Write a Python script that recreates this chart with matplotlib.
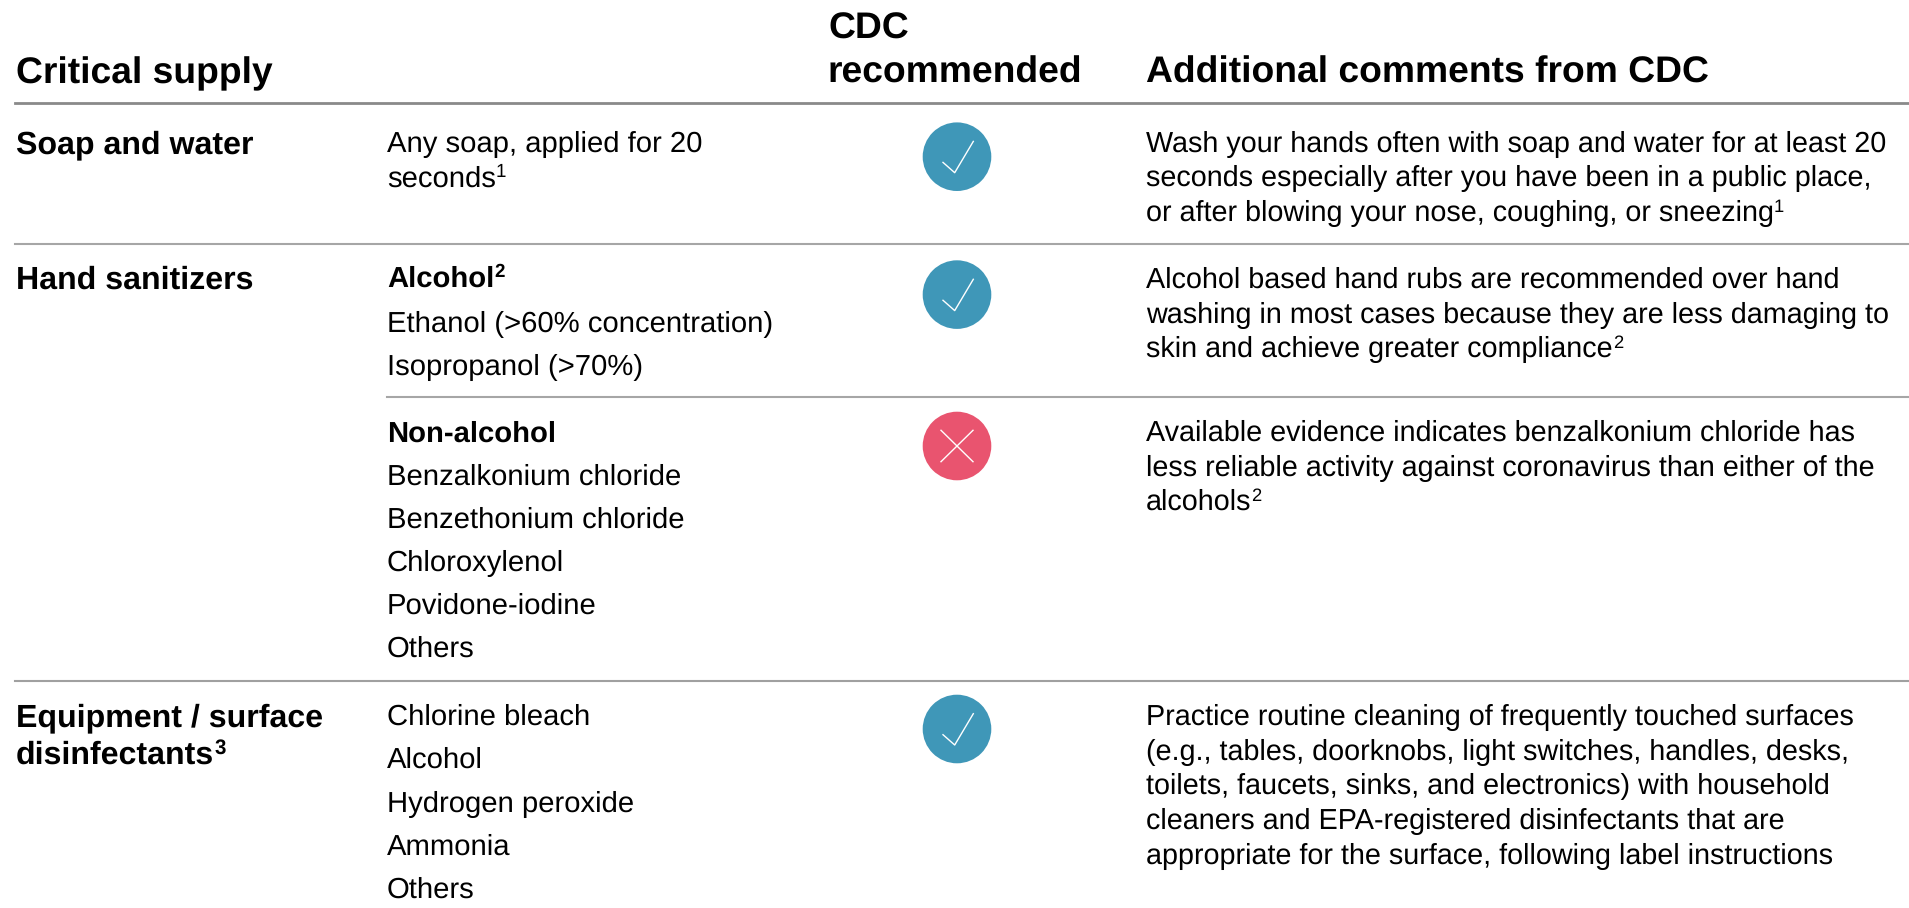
import matplotlib
matplotlib.use('Agg')
import matplotlib.pyplot as plt
from matplotlib.patches import Circle
from matplotlib.lines import Line2D

W, H = 1909, 908
plt.rcParams['font.family'] = ['Liberation Sans', 'DejaVu Sans']
plt.rcParams['text.hinting'] = 'no_hinting'

fig = plt.figure(figsize=(W/100, H/100), dpi=100)
ax = fig.add_axes([0, 0, 1, 1])
ax.set_xlim(0, W); ax.set_ylim(H, 0); ax.axis('off')

HFS, GFS, SFS, CFS = 26.8, 23.1, 21.1, 20.7
DARK = '#000000'

headers = [(16, 83, 'Critical supply'), (828, 38.5, 'CDC'), (828, 83, 'recommended'), (1146, 83, 'Additional comments from CDC')]
rules_y = [103, 244, 396.5, 681]
rule_col = ['#8a8a8a', '#a6a6a6', '#a6a6a6', '#a0a0a0']
rule_lw = [2.0, 1.5, 1.5, 1.5]
rule_x0 = [15, 15, 387, 15]

groups = [(16, 153, 'Soap and water', None), (16, 289, 'Hand sanitizers', None),
          (16, 726, 'Equipment / surface', None), (16, 764, 'disinfectants', '3')]
supply = [(387, 152, 'Any soap, applied for 20', False, None), (387, 187, 'seconds', False, '1'),
          (387, 287, 'Alcohol', True, '2'), (387, 332, 'Ethanol (>60% concentration)', False, None),
          (387, 375, 'Isopropanol (>70%)', False, None),
          (387, 442, 'Non-alcohol', True, None), (387, 485, 'Benzalkonium chloride', False, None),
          (387, 528, 'Benzethonium chloride', False, None), (387, 571, 'Chloroxylenol', False, None),
          (387, 614, 'Povidone-iodine', False, None), (387, 657, 'Others', False, None),
          (387, 725, 'Chlorine bleach', False, None), (387, 768, 'Alcohol', False, None),
          (387, 812, 'Hydrogen peroxide', False, None), (387, 855, 'Ammonia', False, None),
          (387, 898, 'Others', False, None)]
comments = [(1146, 152, 'Wash your hands often with soap and water for at least 20', None),
            (1146, 186, 'seconds especially after you have been in a public place,', None),
            (1146, 221, 'or after blowing your nose, coughing, or sneezing', '1'),
            (1146, 288, 'Alcohol based hand rubs are recommended over hand', None),
            (1146, 323, 'washing in most cases because they are less damaging to', None),
            (1146, 357, 'skin and achieve greater compliance', '2'),
            (1146, 441, 'Available evidence indicates benzalkonium chloride has', None),
            (1146, 476, 'less reliable activity against coronavirus than either of the', None),
            (1146, 510, 'alcohols', '2'),
            (1146, 725, 'Practice routine cleaning of frequently touched surfaces', None),
            (1146, 759.5, '(e.g., tables, doorknobs, light switches, handles, desks,', None),
            (1146, 794, 'toilets, faucets, sinks, and electronics) with household', None),
            (1146, 829, 'cleaners and EPA-registered disinfectants that are', None),
            (1146, 863.5, 'appropriate for the surface, following label instructions', None)]
marks = [(957, 156.7, 'check', '#3f97b8'), (957, 294.6, 'check', '#3f97b8'),
         (957, 446, 'cross', '#e9546f'), (957, 729, 'check', '#3f97b8')]

renderer = fig.canvas.get_renderer()

def put(x, y, s, size, bold=False, sup=None):
    w = 'bold' if bold else 'normal'
    t = ax.text(x, y, s, fontsize=size, fontweight=w, color=DARK, va='baseline', ha='left')
    if sup:
        bb = t.get_window_extent(renderer)
        ax.text(bb.x1, y - size * 100 / 72 * 0.33, sup, fontsize=size * 0.64, fontweight=w,
                color=DARK, va='baseline', ha='left')

for x, y, s in headers:
    put(x, y, s, HFS, True)
for y, c, x0, lw in zip(rules_y, rule_col, rule_x0, rule_lw):
    ax.add_line(Line2D([x0, W], [y, y], color=c, lw=lw))
for x, y, s, sp in groups:
    put(x, y, s, GFS, True, sp)
for x, y, s, b, sp in supply:
    put(x, y, s, SFS, b, sp)
for x, y, s, sp in comments:
    put(x, y, s, CFS, False, sp)

for x, y, kind, col in marks:
    ax.add_patch(Circle((x, y), 34.3, color=col, lw=0))
    if kind == 'check':
        ax.add_line(Line2D([x-14, x-2.3, x+16.3], [y+5.7, y+16, y-15.3], color='white', lw=1.0))
    else:
        ax.add_line(Line2D([x-16, x+16], [y-15.7, y+15.7], color='white', lw=1.0))
        ax.add_line(Line2D([x-16, x+16], [y+15.7, y-15.7], color='white', lw=1.0))

fig.savefig('out.png', dpi=100)
